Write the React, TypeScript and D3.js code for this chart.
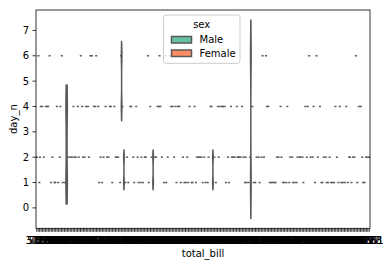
import React from "react";
import * as d3 from "d3";

// tips dataset: total_bill, sex, day (row order)
const totalBill = [
  16.99, 10.34, 21.01, 23.68, 24.59, 25.29, 8.77, 26.88, 15.04, 14.78,
  10.27, 35.26, 15.42, 18.43, 14.83, 21.58, 10.33, 16.29, 16.97, 20.65,
  17.92, 20.29, 15.77, 39.42, 19.82, 17.81, 13.37, 12.69, 21.7, 19.65,
  9.55, 18.35, 15.06, 20.69, 17.78, 24.06, 16.31, 16.93, 18.69, 31.27,
  16.04, 17.46, 13.94, 9.68, 30.4, 18.29, 22.23, 32.4, 28.55, 18.04,
  12.54, 10.29, 34.81, 9.94, 25.56, 19.49, 38.01, 26.41, 11.24, 48.27,
  20.29, 13.81, 11.02, 18.29, 17.59, 20.08, 16.45, 3.07, 20.23, 15.01,
  12.02, 17.07, 26.86, 25.28, 14.73, 10.51, 17.92, 27.2, 22.76, 17.29,
  19.44, 16.66, 10.07, 32.68, 15.98, 34.83, 13.03, 18.28, 24.71, 21.16,
  28.97, 22.49, 5.75, 16.32, 22.75, 40.17, 27.28, 12.03, 21.01, 12.46,
  11.35, 15.38, 44.3, 22.42, 20.92, 15.36, 20.49, 25.21, 18.24, 14.31,
  14.0, 7.25, 38.07, 23.95, 25.71, 17.31, 29.93, 10.65, 12.43, 24.08,
  11.69, 13.42, 14.26, 15.95, 12.48, 29.8, 8.52, 14.52, 11.38, 22.82,
  19.08, 20.27, 11.17, 12.26, 18.26, 8.51, 10.33, 14.15, 16.0, 13.16,
  17.47, 34.3, 41.19, 27.05, 16.43, 8.35, 18.64, 11.87, 9.78, 7.51,
  14.07, 13.13, 17.26, 24.55, 19.77, 29.85, 48.17, 25.0, 13.39, 16.49,
  21.5, 12.66, 16.21, 13.81, 17.51, 24.52, 20.76, 31.71, 10.59, 10.63,
  50.81, 15.81, 7.25, 31.85, 16.82, 32.9, 17.89, 14.48, 9.6, 34.63,
  34.65, 23.33, 45.35, 23.17, 40.55, 20.69, 20.9, 30.46, 18.15, 23.1,
  15.69, 19.81, 28.44, 15.48, 16.58, 7.56, 10.34, 43.11, 13.0, 13.51,
  18.71, 12.74, 13.0, 16.4, 20.53, 16.47, 26.59, 38.73, 24.27, 12.76,
  30.06, 25.89, 48.33, 13.27, 28.17, 12.9, 28.15, 11.59, 7.74, 30.14,
  12.16, 13.42, 8.58, 15.98, 13.42, 16.27, 10.09, 20.45, 13.28, 22.12,
  24.01, 15.69, 11.61, 10.77, 15.53, 10.07, 12.6, 32.83, 35.83, 29.03,
  27.18, 22.67, 17.82, 18.78,
];

const sexCode = [
  "F","M","M","M","F","M","M","M","M","M",
  "M","F","M","M","F","M","F","M","F","M",
  "M","F","F","M","M","M","M","M","M","F",
  "M","M","F","F","M","M","M","F","M","M",
  "M","M","M","M","M","M","M","M","M","M",
  "M","F","F","M","M","M","M","F","M","M",
  "M","M","M","M","M","M","F","F","M","M",
  "M","F","F","F","F","M","M","M","M","M",
  "M","M","F","M","M","F","M","M","M","M",
  "M","M","F","F","F","M","M","M","M","M",
  "F","F","F","F","F","M","M","M","M","F",
  "M","F","M","M","F","F","M","F","F","F",
  "M","F","M","M","F","F","M","F","F","M",
  "M","F","F","F","F","F","F","F","M","F",
  "F","M","M","F","F","F","F","F","M","M",
  "M","M","M","M","M","F","M","F","F","M",
  "M","M","F","M","F","M","M","M","F","F",
  "M","M","M","M","M","M","M","M","F","M",
  "M","M","M","M","M","M","F","M","F","M",
  "M","F","M","M","M","M","M","F","F","M",
  "M","F","F","F","M","F","M","M","M","F",
  "M","M","M","F","F","F","M","M","M","F",
  "M","F","M","F","M","F","F","M","M","F",
  "M","M","M","M","M","M","M","M","F","M",
  "F","M","M","F",
];

const dayName = [
  "Sun","Sun","Sun","Sun","Sun","Sun","Sun","Sun","Sun","Sun",
  "Sun","Sun","Sun","Sun","Sun","Sun","Sun","Sun","Sun","Sat",
  "Sat","Sat","Sat","Sat","Sat","Sat","Sat","Sat","Sat","Sat",
  "Sat","Sat","Sat","Sat","Sat","Sat","Sat","Sat","Sat","Sat",
  "Sat","Sun","Sun","Sun","Sun","Sun","Sun","Sun","Sun","Sun",
  "Sun","Sun","Sun","Sun","Sun","Sun","Sat","Sat","Sat","Sat",
  "Sat","Sat","Sat","Sat","Sat","Sat","Sat","Sat","Sat","Sat",
  "Sat","Sat","Sat","Sat","Sat","Sat","Sat","Thur","Thur","Thur",
  "Thur","Thur","Thur","Thur","Thur","Thur","Thur","Thur","Thur","Thur",
  "Fri","Fri","Fri","Fri","Fri","Fri","Fri","Fri","Fri","Fri",
  "Fri","Fri","Sat","Sat","Sat","Sat","Sat","Sat","Sat","Sat",
  "Sat","Sat","Sun","Sun","Sun","Sun","Sun","Thur","Thur","Thur",
  "Thur","Thur","Thur","Thur","Thur","Thur","Thur","Thur","Thur","Thur",
  "Thur","Thur","Thur","Thur","Thur","Thur","Thur","Thur","Thur","Thur",
  "Thur","Thur","Thur","Thur","Thur","Thur","Thur","Thur","Thur","Thur",
  "Sun","Sun","Sun","Sun","Sun","Sun","Sun","Sun","Sun","Sun",
  "Sun","Sun","Sun","Sun","Sun","Sun","Sun","Sun","Sat","Sat",
  "Sat","Sat","Sun","Sun","Sun","Sun","Sun","Sun","Sun","Sun",
  "Sun","Sun","Sun","Sun","Sun","Sun","Sun","Sun","Sun","Sun",
  "Sun","Thur","Thur","Thur","Thur","Thur","Thur","Thur","Thur","Thur",
  "Thur","Thur","Thur","Thur","Thur","Thur","Sat","Sat","Sat","Sat",
  "Sat","Sat","Sat","Sat","Sat","Sat","Sat","Sat","Sat","Sat",
  "Fri","Fri","Fri","Fri","Fri","Fri","Fri","Sat","Sat","Sat",
  "Sat","Sat","Sat","Sat","Sat","Sat","Sat","Sat","Sat","Sat",
  "Sat","Sat","Sat","Thur",
];

const dayToN: Record<string, number> = { Sun: 1, Sat: 2, Thur: 4, Fri: 6 };
const hueCodes = ["M", "F"];
const hueLabels = ["Male", "Female"];
const hueColors = ["#66c2a5", "#fc8d62"];
const yTickValues = [0, 1, 2, 3, 4, 5, 6, 7];
const bwFactor = 0.2;
const GRAY = "#595959";
const FONT = "DejaVu Sans, sans-serif";

type Single = { kind: "single"; pos: number; val: number; color: string };
type Kde = { kind: "kde"; pos: number; support: number[]; dens: number[]; color: string };
type Violin = Single | Kde;

export default function App() {
  const W = 391, H = 267;
  const L = 36, R = 370, T = 10, B = 228.3;

  const categories = Array.from(new Set(totalBill)).sort((a, b) => a - b);
  const n = categories.length;
  const width = 0.8;
  const eachW = width / hueCodes.length;
  const offsets = hueCodes.map((_, j) => j * eachW - (width - eachW) / 2);
  const dwidth = eachW / 2;

  const violins: Violin[] = [];
  categories.forEach((c, ci) => {
    const group: Violin[] = [];
    hueCodes.forEach((h, j) => {
      const vals: number[] = [];
      totalBill.forEach((tb, r) => {
        if (tb === c && sexCode[r] === h) vals.push(dayToN[dayName[r]]);
      });
      if (vals.length === 0) return;
      const pos = ci + offsets[j];
      const uniq = Array.from(new Set(vals));
      if (uniq.length === 1) {
        group.push({ kind: "single", pos, val: uniq[0], color: hueColors[j] });
        return;
      }
      const sd = d3.deviation(vals) as number;
      const bw = bwFactor * sd;
      const lo = (d3.min(vals) as number) - 2 * bw;
      const hi = (d3.max(vals) as number) + 2 * bw;
      const support = d3.range(100).map((k) => lo + ((hi - lo) * k) / 99);
      const dens = support.map(
        (s) =>
          d3.mean(vals, (v) => Math.exp(-0.5 * ((s - v) / bw) ** 2) / (bw * Math.sqrt(2 * Math.PI))) as number
      );
      group.push({ kind: "kde", pos, support, dens, color: hueColors[j] });
    });
    const maxD = d3.max(group, (g) => (g.kind === "kde" ? (d3.max(g.dens) as number) : 0)) || 1;
    group.forEach((g) => {
      if (g.kind === "kde") g.dens = g.dens.map((d) => d / maxD);
      violins.push(g);
    });
  });

  let yMin = Infinity, yMax = -Infinity;
  violins.forEach((v) => {
    const ext = v.kind === "single" ? [v.val, v.val] : [v.support[0], v.support[v.support.length - 1]];
    yMin = Math.min(yMin, ext[0]);
    yMax = Math.max(yMax, ext[1]);
  });
  const pad = (yMax - yMin) * 0.05;

  const x = d3.scaleLinear().domain([-0.5, n - 0.5]).range([L, R]);
  const y = d3.scaleLinear().domain([yMin - pad, yMax + pad]).range([B, T]);

  const fmt = (v: number) => (Number.isInteger(v) ? v.toFixed(1) : String(v));

  const violinPath = (v: Kde) => {
    const right = v.support.map((s, k) => [x(v.pos + v.dens[k] * dwidth), y(s)]);
    const left = v.support.map((s, k) => [x(v.pos - v.dens[k] * dwidth), y(s)]).reverse();
    return d3.line()([...right, ...left] as [number, number][]) + "Z";
  };

  return (
    <svg
      width={W}
      height={H}
      style={{ position: "absolute", left: 0, top: 0, background: "#fff" }}
      fontFamily={FONT}
    >
      <rect x={0} y={0} width={W} height={H} fill="#fff" />
      {/* violins */}
      <g>
        {violins.map((v, i) =>
          v.kind === "single" ? (
            <line
              key={i}
              x1={x(v.pos - dwidth)}
              x2={x(v.pos + dwidth)}
              y1={y(v.val)}
              y2={y(v.val)}
              stroke={GRAY}
              strokeWidth={1.5}
              strokeLinecap="square"
            />
          ) : (
            <path key={i} d={violinPath(v)} fill={v.color} stroke={GRAY} strokeWidth={1.5} strokeLinejoin="round" />
          )
        )}
      </g>
      {/* spines */}
      <rect x={L} y={T} width={R - L} height={B - T} fill="none" stroke="#000" strokeWidth={0.8} />
      {/* x ticks */}
      <g>
        {categories.map((c, i) => (
          <g key={i}>
            <line x1={x(i)} x2={x(i)} y1={B} y2={B + 3.5} stroke="#000" strokeWidth={0.8} />
            <text x={x(i)} y={B + 15.8} fontSize={10} textAnchor="middle" fill="#000">
              {fmt(c)}
            </text>
          </g>
        ))}
      </g>
      {/* y ticks */}
      <g>
        {yTickValues.map((t) => (
          <g key={t}>
            <line x1={L - 3.5} x2={L} y1={y(t)} y2={y(t)} stroke="#000" strokeWidth={0.8} />
            <text x={L - 7} y={y(t)} dy="0.35em" fontSize={10} textAnchor="end" fill="#000">
              {t}
            </text>
          </g>
        ))}
      </g>
      <text x={(L + R) / 2} y={257} fontSize={10} textAnchor="middle" fill="#000">
        total_bill
      </text>
      <text
        transform={`translate(17,${(T + B) / 2}) rotate(-90)`}
        fontSize={10}
        textAnchor="middle"
        fill="#000"
      >
        day_n
      </text>
      {/* legend */}
      <g>
        <rect x={163.5} y={15} width={76.5} height={48.3} rx={2.5} fill="#fff" fillOpacity={0.8} stroke="#cccccc" strokeWidth={1} />
        <text x={201.7} y={28.3} fontSize={10} textAnchor="middle" fill="#000">
          sex
        </text>
        {hueLabels.map((lab, j) => (
          <g key={lab}>
            <rect x={171.5} y={36.5 + j * 13.5} width={20} height={6.5} fill={hueColors[j]} stroke={GRAY} strokeWidth={1.5} />
            <text x={199.5} y={43.3 + j * 13.5} fontSize={10} fill="#000">
              {lab}
            </text>
          </g>
        ))}
      </g>
    </svg>
  );
}
